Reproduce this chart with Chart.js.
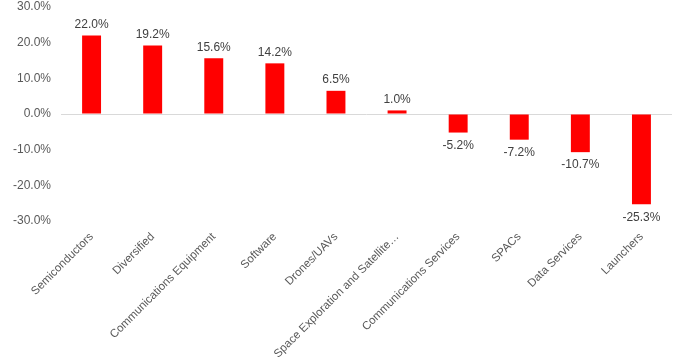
<!DOCTYPE html>
<html>
<head>
<meta charset="utf-8">
<script src="https://cdn.jsdelivr.net/npm/chart.js@4"></script>
<style>
  html, body { margin: 0; padding: 0; background: #fff; }
  #wrap { width: 687px; height: 358px; }
</style>
</head>
<body>
<div id="wrap"><canvas id="returns-chart"></canvas></div>
<script>
const categories = ["Semiconductors", "Diversified", "Communications Equipment", "Software", "Drones/UAVs",
    "Space Exploration and Satellite…", "Communications Services", "SPACs", "Data Services", "Launchers"];
const returns = [22.0, 19.2, 15.6, 14.2, 6.5, 1.0, -5.2, -7.2, -10.7, -25.3];
const yTicks = [-30, -20, -10, 0, 10, 20, 30];

// draws the % value above positive bars and below negative ones
const valueLabels = {
    id: "valueLabels",
    afterDatasetsDraw(chart) {
        const ctx = chart.ctx;
        const meta = chart.getDatasetMeta(0);
        ctx.save();
        ctx.font = "12px 'Liberation Sans', Arial, sans-serif";
        ctx.fillStyle = "#404040";
        ctx.textAlign = "center";
        meta.data.forEach((bar, i) => {
            const v = returns[i];
            if (v >= 0) {
                ctx.textBaseline = "bottom";
                ctx.fillText(v.toFixed(1) + "%", bar.x, bar.y - 5);
            } else {
                ctx.textBaseline = "top";
                ctx.fillText(v.toFixed(1) + "%", bar.x, bar.y + 7);
            }
        });
        ctx.restore();
    }
};

const returnsChart = () => {
    const option = {
        type: "bar",
        data: {
            labels: categories,
            datasets: [{
                data: returns,
                backgroundColor: "#ff0000",
                barPercentage: 0.62,
                categoryPercentage: 0.5,
            }]
        },
        options: {
            responsive: true,
            maintainAspectRatio: false,
            animation: false,
            layout: { padding: { top: 7, left: 3, right: 15, bottom: 0 } },
            plugins: { legend: { display: false }, tooltip: { enabled: false } },
            scales: {
                x: {
                    grid: { display: false },
                    border: { display: false },
                    afterFit: (axis) => { axis.height = 137; },
                    ticks: {
                        minRotation: 45, maxRotation: 45,
                        color: "#595959",
                        font: { family: "'Liberation Sans', Arial, sans-serif", size: 11.5 },
                        padding: 1
                    }
                },
                y: {
                    min: -30, max: 30,
                    afterBuildTicks: (axis) => { axis.ticks = yTicks.map(v => ({ value: v })); },
                    afterFit: (axis) => { axis.paddingTop = 0; axis.paddingBottom = 0; },
                    grid: {
                        color: (c) => c.tick && c.tick.value === 0 ? "#d9d9d9" : "rgba(0,0,0,0)",
                        drawTicks: false
                    },
                    border: { display: false },
                    ticks: {
                        color: "#595959",
                        font: { family: "'Liberation Sans', Arial, sans-serif", size: 12 },
                        padding: 10,
                        callback: (v) => v.toFixed(1) + "%"
                    }
                }
            }
        },
        plugins: [valueLabels]
    };
    const canvas = document.getElementById("returns-chart");
    new Chart(canvas, option);
};

returnsChart();
</script>
</body>
</html>
